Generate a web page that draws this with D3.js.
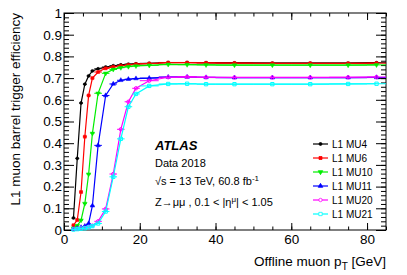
<!DOCTYPE html>
<html>
<head>
<meta charset="utf-8">
<script src="https://cdn.jsdelivr.net/npm/d3@7"></script>
<style>
  body { margin: 0; background: #fff; }
  svg { font-family: "Liberation Sans", Arial, sans-serif; }
  .axis text { font-size: 13.5px; fill: #000; }
  .axis line { stroke: #000; stroke-width: 1; }
  .axis path { display: none; }
  .axis-label { font-size: 13.5px; }
  .info { font-size: 11px; }
  .legend text { font-size: 10px; }
</style>
</head>
<body>
<div id="chart"></div>
<script>
// ====== L1 muon barrel trigger efficiency vs offline muon pT ======

// bin centres and half widths [GeV]
const ptBins = [2.5, 3.5, 4.5, 5.5, 6.5, 7.5, 9, 11, 13, 15, 17, 19, 22.5, 27.5, 32.5, 37.5, 45, 55, 65, 75, 82.5];
const ptHalfWidth = [0.5, 0.5, 0.5, 0.5, 0.5, 0.5, 1, 1, 1, 1, 1, 1, 2.5, 2.5, 2.5, 2.5, 5, 5, 5, 5, 2.5];

const effMU4  = [0.055, 0.33, 0.585, 0.672, 0.71, 0.733, 0.743, 0.751, 0.757, 0.761, 0.764, 0.766, 0.768, 0.772, 0.772, 0.771, 0.770, 0.769, 0.769, 0.769, 0.771];
const effMU6  = [0.022, 0.046, 0.175, 0.43, 0.62, 0.70, 0.728, 0.745, 0.752, 0.757, 0.761, 0.764, 0.767, 0.771, 0.771, 0.770, 0.769, 0.768, 0.768, 0.768, 0.769];
const effMU10 = [0.008, 0.02, 0.045, 0.122, 0.257, 0.445, 0.63, 0.722, 0.74, 0.748, 0.753, 0.756, 0.759, 0.763, 0.762, 0.761, 0.760, 0.760, 0.760, 0.760, 0.761];
const effMU11 = [0.004, 0.008, 0.012, 0.018, 0.03, 0.112, 0.39, 0.62, 0.673, 0.69, 0.695, 0.698, 0.700, 0.705, 0.705, 0.703, 0.702, 0.702, 0.702, 0.702, 0.703];
const effMU20 = [0.004, 0.006, 0.008, 0.010, 0.014, 0.02, 0.04, 0.097, 0.258, 0.464, 0.591, 0.653, 0.688, 0.704, 0.706, 0.704, 0.703, 0.703, 0.703, 0.704, 0.705];
const effMU21 = [0.002, 0.004, 0.006, 0.008, 0.012, 0.018, 0.03, 0.085, 0.245, 0.42, 0.568, 0.627, 0.664, 0.673, 0.674, 0.672, 0.672, 0.672, 0.672, 0.673, 0.674];

const seriesNames = ["L1 MU4", "L1 MU6", "L1 MU10", "L1 MU11", "L1 MU20", "L1 MU21"];
const seriesValues = [effMU4, effMU6, effMU10, effMU11, effMU20, effMU21];

const xMajorTicks = [0, 20, 40, 60, 80];
const yMajorTicks = [0, 0.1, 0.2, 0.3, 0.4, 0.5, 0.6, 0.7, 0.8, 0.9, 1];

// styles per series (same order as seriesNames)
const seriesColors = ["#000000", "#ff0000", "#00ee00", "#0000ff", "#ff00ff", "#00ffff"];
const seriesSymbols = [d3.symbolCircle, d3.symbolSquare, d3.symbolTriangle, d3.symbolTriangle, d3.symbolCircle, d3.symbolSquare];
const seriesRotate = [0, 0, 180, 0, 0, 0];
const seriesOpen = [false, false, false, false, true, true];
const seriesSize = [7, 9, 9, 9, 9, 11];

let margin = {top: 13, right: 21, bottom: 45, left: 64},
    width = 407 - margin.left - margin.right,
    height = 275 - margin.top - margin.bottom;

let svg = d3.select("#chart").append("svg")
    .attr("width", 407)
    .attr("height", 275)
    .append("g")
    .attr("transform", "translate(" + margin.left + "," + margin.top + ")");

let x = d3.scaleLinear().domain([0, 85]).range([0, width]);
let y = d3.scaleLinear().domain([0, 1]).range([height, 0]);

let xMinor = d3.range(0, 86, 5);
let yMinor = d3.range(0, 51).map(function(i) { return i * 0.02; });

// bottom / top axes
svg.append("g").attr("class", "axis")
    .attr("transform", "translate(0," + height + ")")
    .call(d3.axisBottom(x).tickValues(xMinor).tickSize(-3.5).tickSizeOuter(0).tickFormat(""));
svg.append("g").attr("class", "axis")
    .attr("transform", "translate(0," + height + ")")
    .call(d3.axisBottom(x).tickValues(xMajorTicks).tickSize(-7).tickSizeOuter(0).tickPadding(4).tickFormat(d3.format("d")));
svg.append("g").attr("class", "axis")
    .call(d3.axisTop(x).tickValues(xMinor).tickSize(-3.5).tickSizeOuter(0).tickFormat(""));
svg.append("g").attr("class", "axis")
    .call(d3.axisTop(x).tickValues(xMajorTicks).tickSize(-7).tickSizeOuter(0).tickFormat(""));

// left / right axes
svg.append("g").attr("class", "axis")
    .call(d3.axisLeft(y).tickValues(yMinor).tickSize(-5).tickSizeOuter(0).tickFormat(""));
svg.append("g").attr("class", "axis")
    .call(d3.axisLeft(y).tickValues(yMajorTicks).tickSize(-10).tickSizeOuter(0).tickPadding(2).tickFormat(d3.format("~g")));
svg.append("g").attr("class", "axis")
    .attr("transform", "translate(" + width + ",0)")
    .call(d3.axisRight(y).tickValues(yMinor).tickSize(-5).tickSizeOuter(0).tickFormat(""));
svg.append("g").attr("class", "axis")
    .attr("transform", "translate(" + width + ",0)")
    .call(d3.axisRight(y).tickValues(yMajorTicks).tickSize(-10).tickSizeOuter(0).tickFormat(""));

// frame
svg.append("rect")
    .attr("width", width)
    .attr("height", height)
    .attr("fill", "none")
    .attr("stroke", "#000")
    .attr("stroke-width", 1);

// axis titles
let xTitle = svg.append("text")
    .attr("class", "axis-label")
    .attr("x", width)
    .attr("y", height + 36)
    .style("text-anchor", "end");
xTitle.append("tspan").text("Offline muon p");
xTitle.append("tspan").attr("dy", 4).style("font-size", "10px").text("T");
xTitle.append("tspan").attr("dy", -4).text(" [GeV]");

svg.append("text")
    .attr("class", "axis-label")
    .attr("transform", "rotate(-90)")
    .attr("x", 0)
    .attr("y", -44)
    .style("text-anchor", "end")
    .text("L1 muon barrel trigger efficiency");

// series
let line = d3.line()
    .x(function(d) { return x(d.pt); })
    .y(function(d) { return y(d.eff); });

seriesValues.forEach(function(vals, s) {
    let pts = vals.map(function(v, i) { return {pt: ptBins[i], hw: ptHalfWidth[i], eff: v}; });
    let g = svg.append("g").attr("class", "series");

    g.append("path")
        .datum(pts)
        .attr("d", line)
        .attr("fill", "none")
        .attr("stroke", seriesColors[s])
        .attr("stroke-width", 1.2);

    g.selectAll(".xerr")
        .data(pts)
        .enter().append("line")
        .attr("class", "xerr")
        .attr("x1", function(d) { return x(d.pt - d.hw); })
        .attr("x2", function(d) { return x(d.pt + d.hw); })
        .attr("y1", function(d) { return y(d.eff); })
        .attr("y2", function(d) { return y(d.eff); })
        .attr("stroke", seriesColors[s])
        .attr("stroke-width", 1);

    g.selectAll(".dot")
        .data(pts)
        .enter().append("path")
        .attr("class", "dot")
        .attr("transform", function(d) { return "translate(" + x(d.pt) + "," + y(d.eff) + ") rotate(" + seriesRotate[s] + ")"; })
        .attr("d", d3.symbol().type(seriesSymbols[s]).size(seriesSize[s]))
        .attr("fill", seriesOpen[s] ? "none" : seriesColors[s])
        .attr("stroke", seriesColors[s])
        .attr("stroke-width", seriesOpen[s] ? 1 : 0.5);
});

// ATLAS label and info text
svg.append("text")
    .attr("x", 91)
    .attr("y", 137)
    .style("font-size", "13px")
    .style("font-weight", "bold")
    .style("font-style", "italic")
    .text("ATLAS");

svg.append("text").attr("class", "info").attr("x", 91).attr("y", 154).text("Data 2018");

let lumi = svg.append("text").attr("class", "info").attr("x", 91).attr("y", 172);
lumi.append("tspan").text("\u221As = 13 TeV, 60.8 fb");
lumi.append("tspan").attr("dy", -4).style("font-size", "8px").text("-1");

let sel = svg.append("text").attr("class", "info").attr("x", 91).attr("y", 193);
sel.append("tspan").text("Z\u2192\u03bc\u03bc , 0.1 < |\u03b7");
sel.append("tspan").attr("dy", -4).style("font-size", "8px").text("\u03bc");
sel.append("tspan").attr("dy", 4).text("| < 1.05");

// legend
let legend = svg.selectAll(".legend")
    .data(seriesNames)
    .enter().append("g")
    .attr("class", "legend")
    .attr("transform", function(d, i) { return "translate(249," + (131 + i * 14) + ")"; });

legend.append("line")
    .attr("x1", 0)
    .attr("x2", 15)
    .attr("stroke", function(d, i) { return seriesColors[i]; })
    .attr("stroke-width", 1.2);

legend.append("path")
    .attr("transform", function(d, i) { return "translate(7.5,0) rotate(" + seriesRotate[i] + ")"; })
    .attr("d", function(d, i) { return d3.symbol().type(seriesSymbols[i]).size(seriesSize[i])(); })
    .attr("fill", function(d, i) { return seriesOpen[i] ? "#fff" : seriesColors[i]; })
    .attr("stroke", function(d, i) { return seriesColors[i]; })
    .attr("stroke-width", 0.8);

legend.append("text")
    .attr("x", 19)
    .attr("dy", "0.35em")
    .text(function(d) { return d; });
</script>
</body>
</html>
